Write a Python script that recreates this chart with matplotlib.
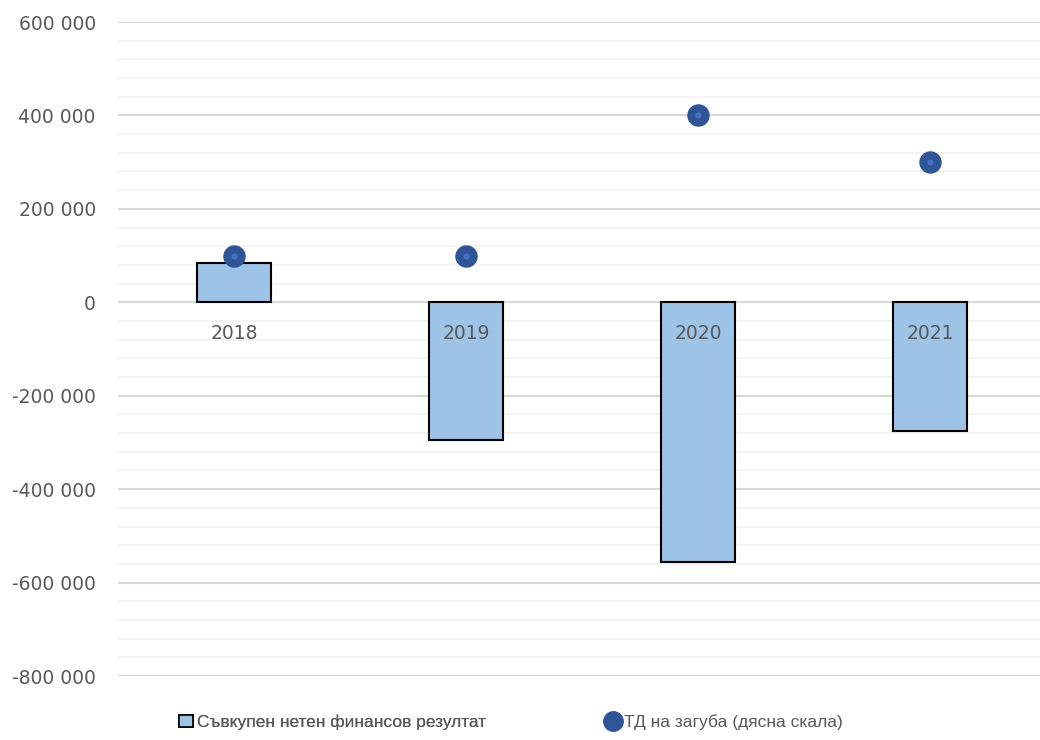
import numpy as np
import matplotlib
matplotlib.use("Agg")
import matplotlib.pyplot as plt
from matplotlib.ticker import MultipleLocator, FuncFormatter
from matplotlib.lines import Line2D
from matplotlib.patches import Patch

years = ["2018", "2019", "2020", "2021"]
net_result = [84000, -295000, -557000, -275000]   # bars, left scale
td_loss = [100000, 100000, 400000, 300000]        # dots, right scale

bar_color = "#9DC3E6"
dot_color = "#2F5597"
dot_center = "#4472C4"
txt = "#595959"

plt.rcParams["font.family"] = ["DejaVu Sans"]

fig = plt.figure(figsize=(10.4, 7.4), dpi=100)
ax = fig.add_axes([118/1040, 1-676/740, 1-118/1040, (676-22)/740])
x = np.arange(len(years))

ax.bar(x, net_result, width=0.315, color=bar_color, edgecolor="black", linewidth=1.5, zorder=3)
ax.set_xlim(-0.5, 3.474)
ax.set_ylim(-800000, 600000)
ax.yaxis.set_major_locator(MultipleLocator(200000))
ax.yaxis.set_minor_locator(MultipleLocator(40000))
ax.yaxis.set_major_formatter(FuncFormatter(lambda v, p: f"{int(v):,}".replace(",", " ")))
ax.grid(which="minor", axis="y", color="#F2F2F2", linewidth=1.2, zorder=0)
ax.grid(which="major", axis="y", color="#D9D9D9", linewidth=1.5, zorder=1)
ax.axhline(0, color="#D9D9D9", linewidth=1.5, zorder=2)
ax.tick_params(axis="y", which="both", length=0)
ax.tick_params(axis="y", labelsize=13.5, labelcolor=txt, pad=16)
ax.set_xticks([])
for s in ax.spines.values():
    s.set_visible(False)

for xi, yr in zip(x, years):
    ax.annotate(yr, (xi, 0), xytext=(0, -31), textcoords="offset pixels",
                ha="center", va="center", fontsize=13.5, color=txt, zorder=5)

ax2 = ax.twinx()
ax2.set_ylim(ax.get_ylim())
ax2.scatter(x, td_loss, s=230, color=dot_color, zorder=4)
ax2.scatter(x, td_loss, s=12, color=dot_center, zorder=5)
ax2.set_yticks([])
for s in ax2.spines.values():
    s.set_visible(False)

labels = ["Съвкупен нетен финансов резултат", "ТД на загуба (дясна скала)"]
lprop = {"family": ["Liberation Sans", "DejaVu Sans"], "size": 12.5}
leg_kw = dict(loc="center left", frameon=False, prop=lprop, labelcolor=txt,
              handlelength=0.8, handletextpad=0.25, borderpad=0, borderaxespad=0)
leg1 = fig.legend([Patch(facecolor=bar_color, edgecolor="black", linewidth=1.2)], labels[:1],
                  bbox_to_anchor=(179/1040, 1-722/740), **leg_kw)
fig.add_artist(leg1)
fig.legend([Line2D([], [], marker="o", linestyle="", markersize=14, color=dot_color)], labels[1:],
           bbox_to_anchor=(606/1040, 1-722/740), **leg_kw)

fig.savefig("out.png", dpi=100)
